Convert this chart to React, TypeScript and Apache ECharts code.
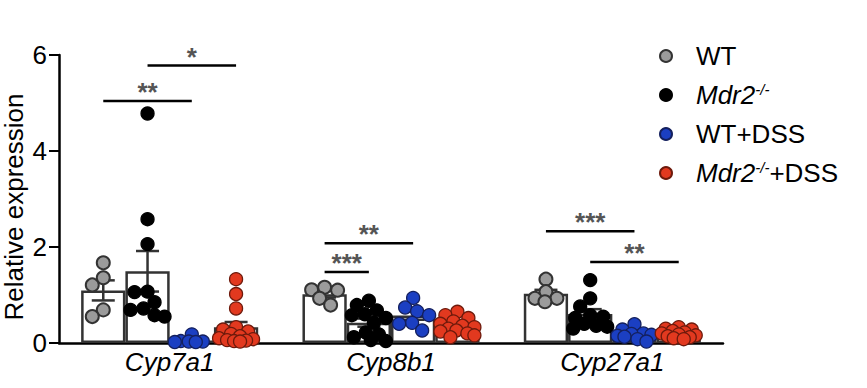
import { useEffect, useRef } from 'react';
import * as echarts from 'echarts';

const genes = ['Cyp7a1', 'Cyp8b1', 'Cyp27a1'];
const groupNames = ['WT', 'Mdr2-/-', 'WT+DSS', 'Mdr2-/-+DSS'];
const groupColors = ['#9b9b9b', '#000000', '#1b3fc2', '#e2391f'];
const groupBorders = ['#333333', '#000000', '#14205e', '#6e1a0c'];

// values per gene: Cyp7a1, Cyp8b1, Cyp27a1
const wtValues = [
  [1.67, 1.36, 1.21, 0.69, 0.55],
  [1.16, 1.11, 1.1, 0.93, 0.79],
  [1.33, 1.07, 0.93, 0.93, 0.86],
];
const mdr2Values = [
  [4.78, 2.58, 2.06, 1.07, 1.06, 0.85, 0.72, 0.69, 0.58, 0.55],
  [0.88, 0.79, 0.68, 0.6, 0.58, 0.52, 0.42, 0.22, 0.18, 0.12, 0.06, 0.04],
  [1.31, 0.93, 0.76, 0.58, 0.55, 0.52, 0.4, 0.36, 0.34, 0.3],
];
const wtDssValues = [
  [0.18, 0.04, 0.03, 0.03, 0.02, 0.02],
  [0.94, 0.74, 0.66, 0.58, 0.42, 0.4, 0.26],
  [0.39, 0.28, 0.2, 0.19, 0.17, 0.15, 0.13, 0.08, 0.03],
];
const mdr2DssValues = [
  [1.33, 1.02, 0.72, 0.33, 0.28, 0.24, 0.19, 0.14, 0.1, 0.08, 0.06, 0.05, 0.04, 0.03],
  [0.65, 0.58, 0.52, 0.45, 0.4, 0.36, 0.33, 0.3, 0.26, 0.24, 0.2, 0.16, 0.12],
  [0.33, 0.3, 0.28, 0.25, 0.22, 0.2, 0.18, 0.16, 0.14, 0.12, 0.1, 0.08],
];
const allValues = [wtValues, mdr2Values, wtDssValues, mdr2DssValues];

const yTicks = [0, 2, 4, 6];

// significance brackets
const bracketGene = [0, 0, 1, 1, 2, 2];
const bracketFrom = [0, 1, 0, 0, 0, 1];
const bracketTo = [2, 3, 1, 2, 2, 3];
const bracketLevel = [5.04, 5.78, 1.48, 2.08, 2.33, 1.69];
const bracketLabel = ['**', '*', '***', '**', '***', '**'];

const FONT = '"Liberation Sans", Arial, Helvetica, sans-serif';
const BAR_FRACTION = 0.2; // each bar width as fraction of a category band (gap 20%)

const mean = (a: number[]) => a.reduce((s, v) => s + v, 0) / a.length;
const sem = (a: number[]) => {
  const m = mean(a);
  const sd = Math.sqrt(a.reduce((s, v) => s + (v - m) * (v - m), 0) / (a.length - 1));
  return sd / Math.sqrt(a.length);
};
const barCenter = (gene: number, grp: number) => gene + 0.5 + (grp - 1.5) * BAR_FRACTION;

function swarm(vals: number[], center: number, pxX: number, pxY: number, diam: number, maxOff: number) {
  const order = vals.map((_, i) => i).sort((a, b) => vals[b] - vals[a]);
  const placed: { x: number; y: number }[] = [];
  const out: [number, number][] = [];
  for (const i of order) {
    const y = vals[i] * pxY;
    let best = 0;
    let bestScore = -Infinity;
    for (let k = 0; k <= 2 * maxOff; k++) {
      const off = k % 2 === 0 ? k / 2 : -(k + 1) / 2;
      let minD = Infinity;
      for (const p of placed) {
        const d = Math.hypot(p.x - off, p.y - y);
        if (d < minD) minD = d;
      }
      if (minD >= diam * 0.95) {
        best = off;
        bestScore = Infinity;
        break;
      }
      if (minD > bestScore) {
        bestScore = minD;
        best = off;
      }
    }
    placed.push({ x: best, y });
    out.push([center + best / pxX, vals[i]]);
  }
  return out;
}

export default function App() {
  const ref = useRef<HTMLDivElement>(null);
  useEffect(() => {
    document.body.style.margin = '0';
    if (!ref.current) return;
    const chart = echarts.init(ref.current, null, { renderer: 'svg' });

    const barSeries = groupNames.map((g, gi) => ({
      name: g + ' mean',
      type: 'bar',
      xAxisIndex: 0,
      yAxisIndex: 0,
      barGap: '0%',
      barCategoryGap: '20%',
      z: 1,
      itemStyle: { color: '#ffffff', borderColor: '#333333', borderWidth: 2.5 },
      data: allValues[gi].map((arr) => mean(arr)),
    }));

    const errData: number[][] = [];
    allValues.forEach((grp, gi) =>
      grp.forEach((arr, ge) => errData.push([barCenter(ge, gi), mean(arr), sem(arr)]))
    );

    const errSeries = {
      type: 'custom',
      xAxisIndex: 1,
      yAxisIndex: 0,
      z: 2,
      silent: true,
      data: errData,
      renderItem: (_p: any, api: any) => {
        const x = api.value(0);
        const m = api.value(1);
        const s = api.value(2);
        const top = api.coord([x, m + s]);
        const bot = api.coord([x, Math.max(0, m - s)]);
        const hw = api.size([BAR_FRACTION * 0.26, 0])[0];
        const style = { stroke: '#333333', lineWidth: 2.5 };
        return {
          type: 'group',
          children: [
            { type: 'line', shape: { x1: top[0], y1: top[1], x2: bot[0], y2: bot[1] }, style },
            { type: 'line', shape: { x1: top[0] - hw, y1: top[1], x2: top[0] + hw, y2: top[1] }, style },
            { type: 'line', shape: { x1: bot[0] - hw, y1: bot[1], x2: bot[0] + hw, y2: bot[1] }, style },
          ],
        };
      },
    };

    const bracketData = bracketGene.map((ge, i) => [
      barCenter(ge, bracketFrom[i]),
      bracketLevel[i],
      barCenter(ge, bracketTo[i]),
    ]);
    const bracketSeries = {
      type: 'custom',
      xAxisIndex: 1,
      yAxisIndex: 0,
      z: 5,
      silent: true,
      data: bracketData,
      renderItem: (p: any, api: any) => {
        const a = api.coord([api.value(0), api.value(1)]);
        const b = api.coord([api.value(2), api.value(1)]);
        return {
          type: 'group',
          children: [
            {
              type: 'line',
              shape: { x1: a[0], y1: a[1], x2: b[0], y2: b[1] },
              style: { stroke: '#000000', lineWidth: 2.5 },
            },
            {
              type: 'text',
              x: (a[0] + b[0]) / 2,
              y: a[1] + 4,
              style: {
                text: bracketLabel[p.dataIndex],
                fill: '#555555',
                font: 'bold 26px ' + FONT,
                align: 'center',
                verticalAlign: 'bottom',
                textAlign: 'center',
                textVerticalAlign: 'bottom',
              },
            },
          ],
        };
      },
    };

    const makeScatter = (data: [number, number][][]) =>
      groupNames.map((g, gi) => ({
        name: g,
        type: 'scatter',
        xAxisIndex: 1,
        yAxisIndex: 0,
        z: 3,
        symbol: 'circle',
        symbolSize: 13,
        itemStyle: { color: groupColors[gi], borderColor: groupBorders[gi], borderWidth: gi === 0 ? 2 : 1.3, opacity: 1 },
        data: data[gi],
      }));

    const option: any = {
      animation: false,
      grid: { left: 59, right: 144, top: 55, bottom: 45 },
      legend: {
        orient: 'vertical',
        left: 654,
        top: 36,
        icon: 'circle',
        itemWidth: 50,
        itemHeight: 12,
        itemGap: 9,
        selectedMode: false,
        data: groupNames,
        formatter: (name: string) => {
          if (name === 'Mdr2-/-') return '{i|Mdr2}{s|-/-}';
          if (name === 'Mdr2-/-+DSS') return '{i|Mdr2}{s|-/-}{n|+DSS}';
          return '{n|' + name + '}';
        },
        textStyle: {
          fontFamily: FONT,
          fontSize: 26,
          color: '#000',
          lineHeight: 30,
          rich: {
            n: { fontFamily: FONT, fontSize: 26, color: '#000', lineHeight: 30 },
            i: { fontFamily: FONT, fontSize: 26, fontStyle: 'italic', color: '#000', lineHeight: 30 },
            s: { fontFamily: FONT, fontSize: 15, fontStyle: 'italic', color: '#000', lineHeight: 30, verticalAlign: 'top', padding: [2, 0, 0, 0] },
          },
        },
      },
      xAxis: [
        {
          type: 'category',
          data: genes,
          axisLine: { lineStyle: { color: '#000', width: 2.5 } },
          axisTick: { show: false },
          axisLabel: { fontFamily: FONT, fontSize: 26, fontStyle: 'italic', color: '#000', margin: 6 },
        },
        { type: 'value', min: 0, max: 3, show: false },
      ],
      yAxis: {
        type: 'value',
        min: 0,
        max: 6,
        interval: 2,
        splitLine: { show: false },
        axisLine: { show: true, lineStyle: { color: '#000', width: 2.5 } },
        axisTick: { show: true, length: 10, lineStyle: { color: '#000', width: 2 } },
        axisLabel: {
          fontFamily: FONT,
          fontSize: 26,
          color: '#000',
          margin: 12,
          formatter: (v: number) => (yTicks.includes(v) ? String(v) : ''),
        },
      },
      graphic: [
        {
          type: 'text',
          x: 14,
          y: 207,
          rotation: Math.PI / 2,
          style: {
            text: 'Relative expression',
            font: '26px ' + FONT,
            fill: '#000',
            align: 'center',
            verticalAlign: 'middle',
            textAlign: 'center',
            textVerticalAlign: 'middle',
          },
        },
      ],
      series: [...barSeries, errSeries, ...makeScatter(groupNames.map(() => [])), bracketSeries],
    };
    chart.setOption(option);

    const y0 = chart.convertToPixel({ yAxisIndex: 0 }, 0) as number;
    const y1 = chart.convertToPixel({ yAxisIndex: 0 }, 1) as number;
    const x0 = chart.convertToPixel({ xAxisIndex: 1 }, 0) as number;
    const x1 = chart.convertToPixel({ xAxisIndex: 1 }, 1) as number;
    const pxY = y0 - y1;
    const pxX = x1 - x0;
    const barPx = BAR_FRACTION * pxX;
    const scatterData = allValues.map((grp, gi) => {
      const pts: [number, number][] = [];
      grp.forEach((arr, ge) => pts.push(...swarm(arr, barCenter(ge, gi), pxX, pxY, 13, Math.round(barPx / 2 - 5))));
      return pts;
    });
    chart.setOption({ series: [...barSeries, errSeries, ...makeScatter(scatterData), bracketSeries] });

    return () => chart.dispose();
  }, []);
  return <div ref={ref} style={{ width: 867, height: 388 }} />;
}
